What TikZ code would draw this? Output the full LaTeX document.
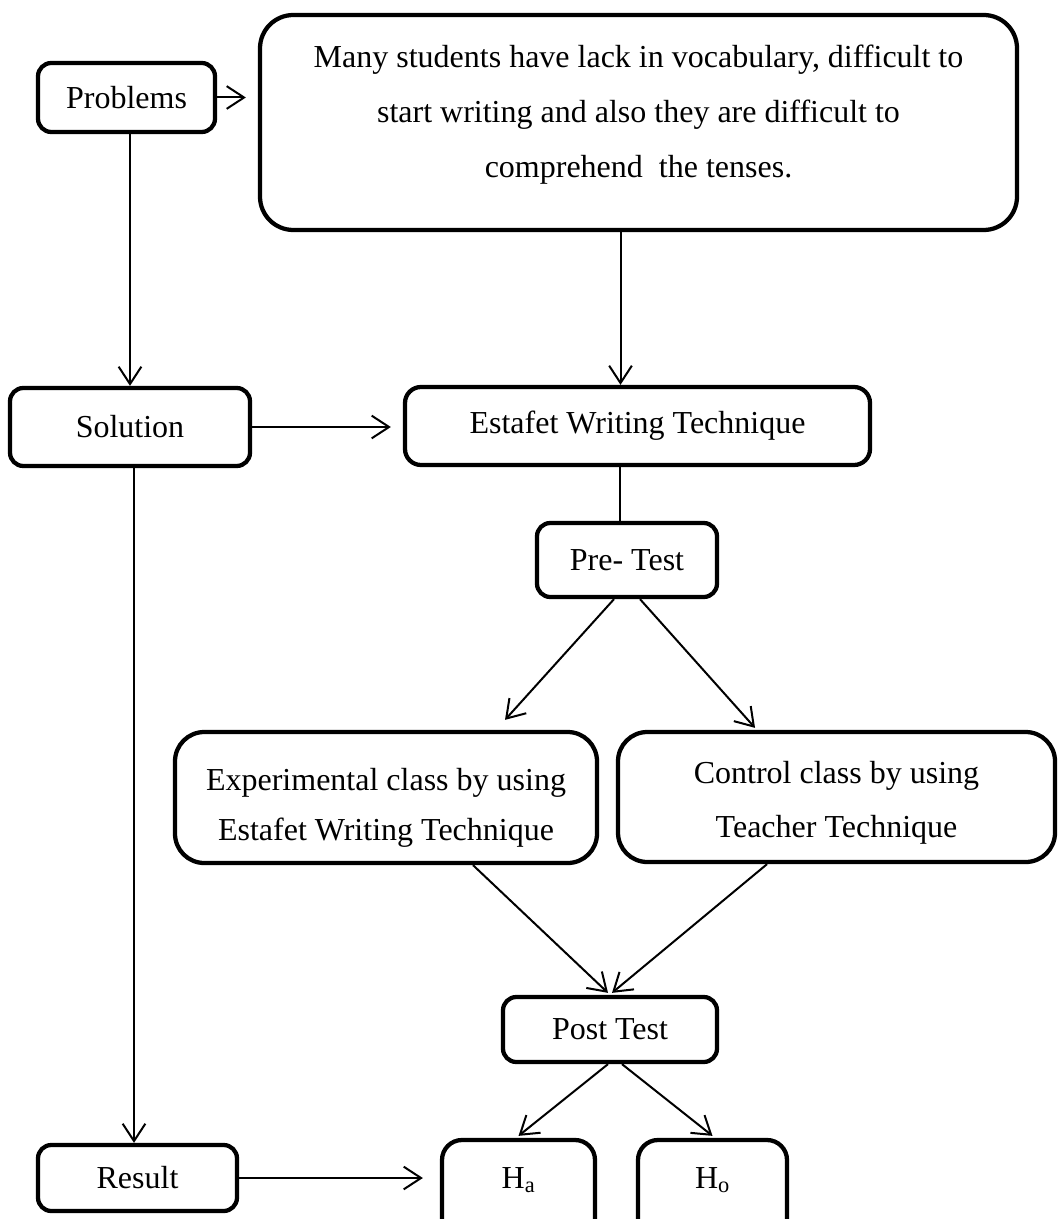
\documentclass[tikz,border=0pt]{standalone}
\usepackage{fontspec}
\setmainfont{Liberation Serif}
\usetikzlibrary{arrows.meta}
\begin{document}
\begin{tikzpicture}[x=0.75pt,y=-0.75pt,
  box/.style={draw, line width=3.2pt, rounded corners=10pt, inner sep=0pt, align=center,
    font=\fontsize{24}{29}\selectfont},
  arr/.style={line width=1.5pt, -{Straight Barb[length=13pt,width=17pt,line width=1.5pt]}},
  ln/.style={line width=1.5pt}]
\useasboundingbox (0,0) rectangle (1057,1219);
\clip (0,0) rectangle (1057,1219);
\node[box, minimum width=132.75pt, minimum height=51.75pt] (prob) at (126.5,97.5) {Problems};
\node[box, minimum width=567.75pt, minimum height=161.25pt, rounded corners=25pt,
  font=\fontsize{24}{41.25}\selectfont, text height=88.5pt, text depth=5.25pt] (big) at (638.5,122.5)
  {Many students have lack in vocabulary, difficult to\\ start writing and also they are difficult to\\ comprehend\ \ the tenses.};
\node[box, minimum width=180pt, minimum height=58.5pt] (sol) at (130,427) {Solution};
\node[box, minimum width=348.75pt, minimum height=58.5pt, rounded corners=12pt] (est) at (637.5,426) {Estafet Writing Technique};
\node[box, minimum width=135pt, minimum height=55.5pt] (pre) at (627,560) {Pre- Test};
\node[box, minimum width=316.5pt, minimum height=98.25pt, rounded corners=22pt,
  font=\fontsize{24}{37.5}\selectfont, text height=69pt, text depth=5.25pt] (exp) at (386,797.5)
  {Experimental class by using\\ Estafet Writing Technique};
\node[box, minimum width=327.75pt, minimum height=97.5pt, rounded corners=22pt,
  font=\fontsize{24}{40.5}\selectfont, text height=65.25pt, text depth=5.25pt] (ctl) at (836.5,797)
  {Control class by using\\ Teacher Technique};
\node[box, minimum width=160.5pt, minimum height=48.75pt] (post) at (610,1029.5) {Post Test};
\node[box, minimum width=149.25pt, minimum height=49.5pt] (res) at (137.5,1178) {Result};
\node[box, minimum width=114.75pt, minimum height=75pt, rounded corners=15pt,
  text height=15.75pt, text depth=18.75pt] (ha) at (518.5,1190) {H\textsubscript{a}};
\node[box, minimum width=111.75pt, minimum height=75pt, rounded corners=15pt,
  text height=15.75pt, text depth=18.75pt] (ho) at (712.5,1190) {H\textsubscript{o}};

\draw[arr, shorten >=9pt] (prob.east) -- (prob.east -| big.west);
\draw[arr] (prob.south -| sol.north) -- (sol.north);
\draw[arr] ([xshift=-13.5pt]big.south) -- ([xshift=-13.5pt]big.south |- est.north);
\draw[arr, shorten >=9pt] (sol.east) -- (sol.east -| est.west);
\draw[ln] ([xshift=-13.1pt]est.south) -- ([xshift=-13.1pt]est.south |- pre.north);
\draw[arr] ([xshift=-9.75pt]pre.south) -- ([xshift=89.25pt,yshift=7.5pt]exp.north);
\draw[arr] ([xshift=9.75pt]pre.south) -- ([xshift=-61.1pt,yshift=1.5pt]ctl.north);
\draw[arr] ([xshift=65.25pt]exp.south) -- ([xshift=-1.5pt,yshift=1.5pt]post.north);
\draw[arr] ([xshift=-52.1pt]ctl.south) -- ([xshift=1.5pt,yshift=1.5pt]post.north);
\draw[arr] ([xshift=-1.5pt]post.south) -- ([yshift=1.5pt]ha.north);
\draw[arr] ([xshift=9pt]post.south) -- ([yshift=1.5pt]ho.north);
\draw[arr] ([xshift=3pt]sol.south) -- ([xshift=3pt]sol.south |- res.north);
\draw[arr, shorten >=12.75pt] (res.east) -- (res.east -| ha.west);
\end{tikzpicture}
\end{document}
